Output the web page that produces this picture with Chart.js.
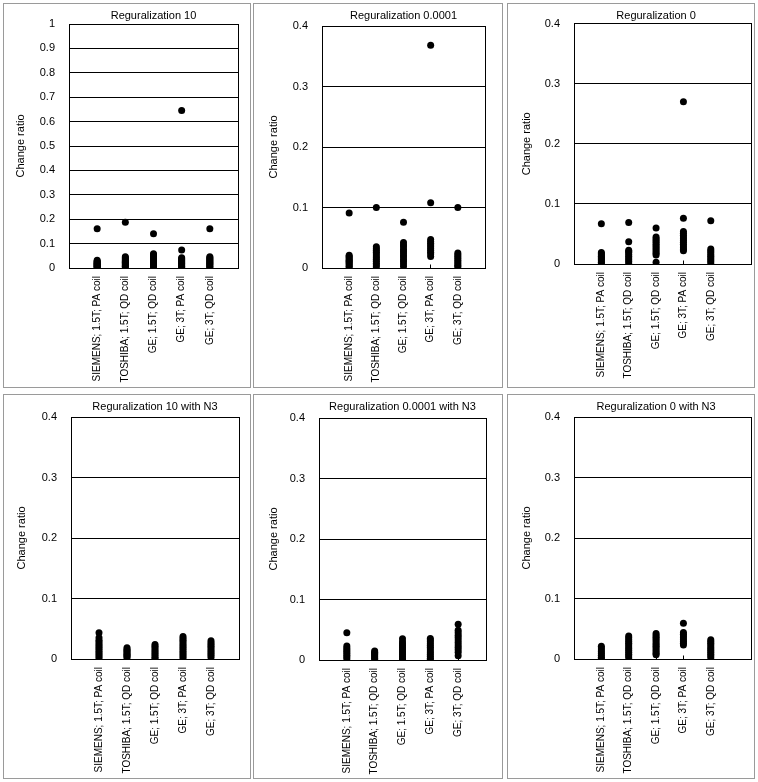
<!DOCTYPE html>
<html>
<head>
<meta charset="utf-8">
<script src="https://cdn.jsdelivr.net/npm/chart.js@4.4.1/dist/chart.umd.min.js"></script>
<style>
  body { margin: 0; background: #fff; }
  #page { position: relative; width: 758px; height: 782px; }
  canvas { position: absolute; }
  .frame { position: absolute; box-sizing: border-box; border: 1px solid #9a9a9a; pointer-events: none; }
</style>
</head>
<body>
<div id="page"></div>
<script>
const categories = ['SIEMENS; 1.5T; PA coil', 'TOSHIBA; 1.5T; QD coil', 'GE; 1.5T; QD coil', 'GE; 3T; PA coil', 'GE; 3T; QD coil'];

const titles = ['Reguralization 10', 'Reguralization 0.0001', 'Reguralization 0',
  'Reguralization 10 with N3', 'Reguralization 0.0001 with N3', 'Reguralization 0 with N3'];

// change ratios, one list per scanner (same order as categories)
const reg10 = [
  [0.161, 0.032, 0.028, 0.025, 0.022, 0.019, 0.017, 0.015, 0.012, 0.010, 0.008, 0.006, 0.004, 0.002],
  [0.187, 0.046, 0.042, 0.038, 0.034, 0.030, 0.027, 0.023, 0.020, 0.017, 0.013, 0.010, 0.007, 0.004],
  [0.140, 0.058, 0.054, 0.050, 0.046, 0.041, 0.036, 0.032, 0.027, 0.022, 0.018, 0.013, 0.009, 0.005],
  [0.645, 0.074, 0.042, 0.038, 0.034, 0.030, 0.026, 0.022, 0.018, 0.014, 0.010, 0.006, 0.003],
  [0.161, 0.046, 0.042, 0.038, 0.034, 0.030, 0.026, 0.022, 0.018, 0.014, 0.010, 0.006, 0.003]
];
const reg00001 = [
  [0.091, 0.021, 0.019, 0.017, 0.015, 0.013, 0.011, 0.009, 0.007, 0.005, 0.003, 0.001],
  [0.100, 0.035, 0.032, 0.029, 0.026, 0.023, 0.020, 0.017, 0.014, 0.011, 0.008, 0.005, 0.002],
  [0.0755, 0.042, 0.038, 0.035, 0.031, 0.028, 0.025, 0.021, 0.018, 0.014, 0.011, 0.007, 0.003],
  [0.368, 0.108, 0.047, 0.044, 0.041, 0.038, 0.035, 0.032, 0.029, 0.026, 0.023, 0.019],
  [0.100, 0.025, 0.022, 0.019, 0.016, 0.013, 0.010, 0.007, 0.004, 0.002]
];
const reg0 = [
  [0.067, 0.019, 0.017, 0.015, 0.013, 0.011, 0.009, 0.007, 0.005, 0.003, 0.001],
  [0.069, 0.037, 0.023, 0.021, 0.019, 0.016, 0.013, 0.010, 0.007, 0.004, 0.001],
  [0.060, 0.045, 0.042, 0.039, 0.036, 0.033, 0.030, 0.027, 0.024, 0.021, 0.018, 0.015, 0.003],
  [0.270, 0.076, 0.054, 0.051, 0.048, 0.045, 0.042, 0.039, 0.036, 0.033, 0.030, 0.027, 0.024, 0.022],
  [0.072, 0.025, 0.022, 0.019, 0.016, 0.013, 0.010, 0.007, 0.004, 0.001]
];
const reg10N3 = [
  [0.0435, 0.035, 0.031, 0.028, 0.025, 0.022, 0.019, 0.016, 0.013, 0.010, 0.007, 0.004, 0.001],
  [0.0185, 0.016, 0.014, 0.012, 0.010, 0.008, 0.006, 0.004, 0.002],
  [0.024, 0.021, 0.018, 0.015, 0.012, 0.009, 0.006, 0.003, 0.001],
  [0.037, 0.034, 0.031, 0.028, 0.025, 0.022, 0.019, 0.016, 0.013, 0.010, 0.007, 0.004, 0.001],
  [0.030, 0.027, 0.024, 0.021, 0.018, 0.015, 0.012, 0.009, 0.006, 0.003]
];
const reg00001N3 = [
  [0.045, 0.023, 0.020, 0.017, 0.014, 0.011, 0.008, 0.005, 0.002],
  [0.015, 0.013, 0.011, 0.009, 0.007, 0.005, 0.003, 0.001],
  [0.035, 0.030, 0.027, 0.024, 0.021, 0.018, 0.015, 0.012, 0.009, 0.006, 0.003, 0.001],
  [0.0355, 0.033, 0.030, 0.027, 0.024, 0.021, 0.018, 0.015, 0.012, 0.009, 0.006, 0.003, 0.001],
  [0.059, 0.049, 0.045, 0.041, 0.037, 0.033, 0.029, 0.025, 0.021, 0.017, 0.013, 0.007]
];
const reg0N3 = [
  [0.021, 0.018, 0.015, 0.012, 0.009, 0.006, 0.003, 0.001],
  [0.038, 0.035, 0.032, 0.029, 0.026, 0.023, 0.020, 0.017, 0.014, 0.011, 0.008, 0.005, 0.002],
  [0.042, 0.039, 0.036, 0.033, 0.030, 0.027, 0.024, 0.021, 0.018, 0.015, 0.012, 0.009, 0.007],
  [0.059, 0.044, 0.041, 0.038, 0.035, 0.032, 0.029, 0.026, 0.023],
  [0.032, 0.029, 0.026, 0.023, 0.020, 0.017, 0.014, 0.011, 0.008, 0.005, 0.002]
];

const allSeries = [reg10, reg00001, reg0, reg10N3, reg00001N3, reg0N3];
const yMaxes = [1, 0.4, 0.4, 0.4, 0.4, 0.4];
const xMaxes = [6, 6, 6.47, 6, 6, 6.47];

// panel boxes on the page, plot area inside each canvas [left, top, right, bottom]
const panels = [
  {left: 3,   top: 3,   w: 248, h: 385, plot: [66, 21, 235, 265], yTitle: 18},
  {left: 253, top: 3,   w: 250, h: 385, plot: [69, 23, 232, 265], yTitle: 21},
  {left: 507, top: 3,   w: 248, h: 385, plot: [67, 20.5, 245, 261], yTitle: 20},
  {left: 3,   top: 394, w: 248, h: 385, plot: [68, 23, 236, 265], yTitle: 19},
  {left: 253, top: 394, w: 250, h: 385, plot: [66, 24, 233, 266], yTitle: 21},
  {left: 507, top: 394, w: 248, h: 385, plot: [67, 23, 245, 265], yTitle: 20}
];

Chart.defaults.font.family = "'Liberation Sans', Arial, sans-serif";
Chart.defaults.font.size = 11;
Chart.defaults.color = '#000';
const LH = 11 * 1.2;

function align(v) {
    return Math.round(v - 0.5) + 0.5;
}

// plot frame, small inward ticks, title centred on the middle category
const framePlugin = {
    id: 'frame',
    afterLayout(chart) {
        const t = chart.titleBlock;
        const cx = chart.scales.x.getPixelForValue(3);
        const half = (t.right - t.left) / 2;
        t.left = cx - half;
        t.right = cx + half;
    },
    afterDraw(chart) {
        const {ctx, chartArea: a, scales: {x}} = chart;
        const l = align(a.left), r = align(a.right), t = align(a.top), b = align(a.bottom);
        ctx.save();
        ctx.strokeStyle = '#000';
        ctx.lineWidth = 1;
        ctx.strokeRect(l, t, r - l, b - t);
        ctx.beginPath();
        x.ticks.forEach(tk => {
            const px = align(x.getPixelForValue(tk.value));
            ctx.moveTo(px, b);
            ctx.lineTo(px, b - 4);
        });
        ctx.stroke();
        ctx.restore();
    }
};

const page = document.getElementById('page');

function makeChart(i) {
    const p = panels[i];
    const [pl, pt, pr, pb] = p.plot;

    const canvas = document.createElement('canvas');
    canvas.width = p.w;
    canvas.height = p.h;
    canvas.style.left = p.left + 'px';
    canvas.style.top = p.top + 'px';
    canvas.style.width = p.w + 'px';
    canvas.style.height = p.h + 'px';
    page.appendChild(canvas);

    const frame = document.createElement('div');
    frame.className = 'frame';
    frame.style.left = p.left + 'px';
    frame.style.top = p.top + 'px';
    frame.style.width = p.w + 'px';
    frame.style.height = p.h + 'px';
    page.appendChild(frame);

    const points = [];
    allSeries[i].forEach((vals, c) => {
        vals.forEach(v => points.push({x: c + 1, y: v}));
    });

    return new Chart(canvas, {
        type: 'scatter',
        data: {
            datasets: [{
                data: points,
                pointRadius: 3.5,
                pointBackgroundColor: '#000',
                pointBorderWidth: 0
            }]
        },
        options: {
            responsive: false,
            animation: false,
            events: [],
            layout: { padding: { left: 0, top: 0, right: p.w - pr, bottom: 0 } },
            plugins: {
                legend: { display: false },
                tooltip: { enabled: false },
                title: {
                    display: true,
                    text: titles[i],
                    fullSize: false,
                    color: '#000',
                    font: { size: 11, weight: 'normal', lineHeight: 1.2 },
                    padding: { top: 6, bottom: pt - 6 - LH }
                }
            },
            scales: {
                x: {
                    type: 'linear',
                    min: 0,
                    max: xMaxes[i],
                    afterBuildTicks: s => { s.ticks = categories.map((c, k) => ({ value: k + 1 })); },
                    afterFit: s => { s.height = p.h - pb; },
                    grid: { display: false },
                    border: { display: false },
                    ticks: {
                        autoSkip: false,
                        minRotation: 90,
                        maxRotation: 90,
                        padding: 0,
                        color: '#000',
                        font: { size: 10 },
                        callback: v => categories[v - 1]
                    }
                },
                y: {
                    min: 0,
                    max: yMaxes[i],
                    afterFit: s => { s.width = pl; },
                    grid: { color: '#000', lineWidth: 1, drawTicks: false },
                    border: { display: false },
                    ticks: {
                        stepSize: 0.1,
                        padding: 14,
                        color: '#000',
                        callback: v => String(+v.toFixed(2))
                    },
                    title: {
                        display: true,
                        text: 'Change ratio',
                        color: '#000',
                        font: { size: 11, lineHeight: 1.2 },
                        padding: { top: p.yTitle - LH / 2, bottom: 0 }
                    }
                }
            }
        },
        plugins: [framePlugin]
    });
}

panels.forEach((p, i) => makeChart(i));
</script>
</body>
</html>
